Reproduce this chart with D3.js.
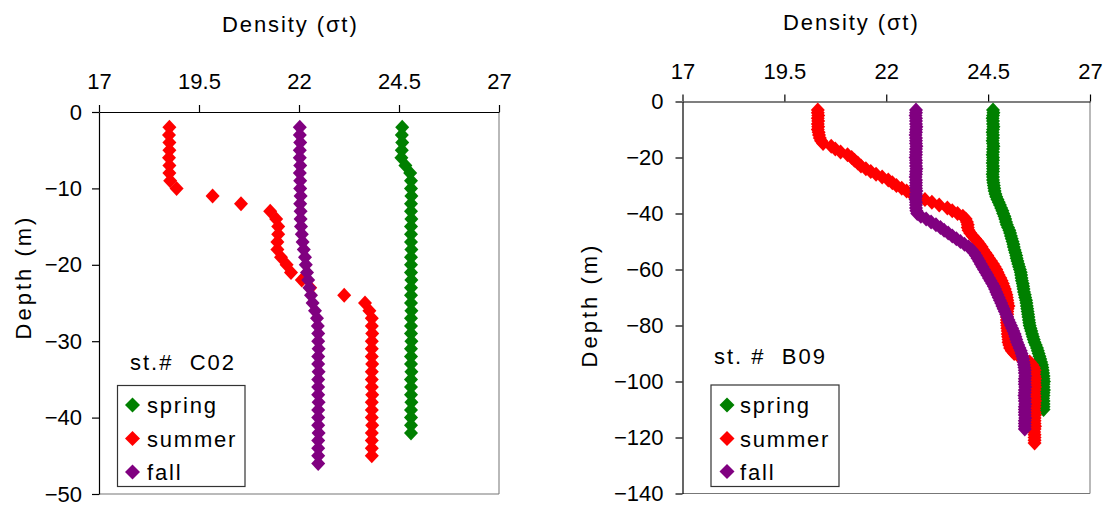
<!DOCTYPE html>
<html><head><meta charset="utf-8">
<script src="https://cdn.jsdelivr.net/npm/d3@7"></script>
<style>
body{margin:0;background:#fff}
text{font-family:"Liberation Sans",Arial,Helvetica,sans-serif;fill:#000}
</style>
</head><body>
<svg id="chart" width="1113" height="509"></svg>
<script>
// ---------- data ----------
const seasons = ["spring", "summer", "fall"];
const seasonColors = ["#008000", "#ff0000", "#800080"];
const xTicks = [17, 19.5, 22, 24.5, 27];
const yTicksC02 = [0, -10, -20, -30, -40, -50];
const yTicksB09 = [0, -20, -40, -60, -80, -100, -120, -140];

// Station C02: density (sigma-t) at 1 m depth steps, first value at startDepth
const c02StartDepth = 2;
const c02Spring = [24.58,24.57,24.58,24.57,24.56,24.66,24.78,24.80,
  24.80,24.81,24.80,24.80,24.81,24.80,24.80,24.80,24.81,24.80,24.80,24.80,24.81,
  24.80,24.80,24.80,24.81,24.80,24.80,24.80,24.81,24.80,24.80,24.80,24.81,
  24.80,24.80,24.80,24.81,24.80,24.80,24.80,24.80];
const c02Summer = [18.76,18.75,18.76,18.76,18.75,18.76,18.76,18.78,18.94,19.84,
  20.55,21.28,21.43,21.48,21.48,21.46,21.46,21.55,21.69,21.80,22.07,22.28,23.13,
  23.65,23.76,23.82,23.82,23.83,23.82,23.82,23.82,23.83,23.82,23.82,23.82,23.83,
  23.82,23.82,23.82,23.83,23.82,23.82,23.82,23.82];
const c02Fall = [22.02,22.02,22.03,22.02,22.02,22.03,22.02,22.03,22.03,22.04,22.03,
  22.04,22.04,22.05,22.07,22.09,22.12,22.15,22.17,22.20,22.23,22.26,22.30,22.34,
  22.40,22.45,22.47,22.48,22.48,22.49,22.48,22.48,22.49,22.48,22.48,22.48,22.49,
  22.48,22.48,22.48,22.49,22.48,22.48,22.48,22.48];

// Station B09
const b09StartDepth = 3;
const b09Spring = [24.62,24.63,24.62,24.61,24.62,24.62,24.63,24.62,24.61,24.62,24.62,
  24.61,24.62,24.63,24.62,24.62,24.61,24.62,24.62,24.61,24.62,24.62,24.62,24.61,24.62,24.62,
  24.63,24.64,24.65,24.66,24.68,24.70,24.73,24.76,24.79,24.82,24.85,24.87,24.90,24.92,
  24.94,24.96,24.99,25.02,25.04,25.06,25.08,25.10,25.12,25.13,25.15,25.17,25.19,25.20,
  25.22,25.24,25.26,25.28,25.30,25.31,25.32,25.33,25.35,25.36,25.37,25.38,25.40,25.41,
  25.43,25.44,25.45,25.46,25.47,25.48,25.49,25.50,25.51,25.52,25.54,25.56,25.58,25.60,
  25.62,25.64,25.67,25.70,25.72,25.74,25.76,25.78,25.80,25.82,25.83,25.84,25.85,
  25.86,25.86,25.87,25.86,25.86,25.87,25.86,25.86,25.85,25.86,25.86,25.86,25.86];
const b09Summer = [20.32,20.32,20.33,20.32,20.33,20.32,20.33,20.32,20.34,20.35,20.37,
  20.40,20.45,20.65,20.75,20.88,21.05,21.15,21.22,21.30,21.38,21.50,21.62,21.75,21.90,
  22.05,22.15,22.25,22.38,22.50,22.62,22.75,22.95,23.12,23.30,23.50,23.62,23.75,23.88,
  23.95,23.98,24.00,24.00,24.02,24.06,24.12,24.18,24.24,24.29,24.34,24.38,24.43,24.48,
  24.52,24.57,24.62,24.66,24.70,24.73,24.76,24.80,24.83,24.86,24.88,24.91,24.93,24.95,
  24.96,24.97,24.98,25.00,
  24.98,24.97,24.97,24.96,24.96,24.96,24.97,24.97,24.98,24.98,24.99,25.00,25.00,25.02,
  25.04,25.08,25.14,25.25,25.40,25.52,25.58,25.62,
  25.64,25.63,25.64,25.65,25.64,25.64,25.65,25.64,25.63,25.64,25.64,25.65,25.64,25.64,
  25.63,25.64,25.65,25.64,25.64,25.64,25.65,25.64,25.63,25.64,25.64,25.64,25.64];
const b09Fall = [22.73,22.73,22.72,22.73,22.73,22.73,22.74,22.73,22.73,22.72,22.73,22.73,
  22.73,22.74,22.73,22.73,22.73,22.72,22.73,22.73,22.73,22.74,22.73,22.73,22.72,22.73,
  22.73,22.73,22.73,22.74,22.73,22.73,22.72,22.73,22.73,22.73,22.74,
  22.76,22.85,22.98,23.10,23.22,23.33,23.42,23.52,23.62,23.72,23.82,23.92,24.02,24.10,
  24.16,24.20,24.24,24.28,24.32,24.36,24.40,24.44,24.48,24.52,24.56,24.60,24.64,24.67,
  24.70,24.73,24.76,24.79,24.82,24.85,24.88,24.91,24.94,24.97,25.00,25.03,25.06,25.09,
  25.12,25.15,25.17,25.19,25.21,25.24,25.27,25.30,25.32,25.34,25.36,25.37,25.38,25.39,
  25.40,25.40,25.41,25.40,25.40,25.40,25.41,25.40,25.40,25.39,25.40,25.40,25.41,25.40,
  25.40,25.40,25.40,25.41,25.40,25.40,25.40,25.40];

// ---------- drawing ----------
const svg = d3.select("#chart");
const minusFmt = d => d < 0 ? "\u2212" + Math.abs(d) : String(d);

function panel(cfg) {
  const x = d3.scaleLinear().domain([17, 27]).range([cfg.x0, cfg.x1]);
  const y = d3.scaleLinear().domain([0, cfg.yMin]).range([cfg.y0, cfg.y1]);
  const g = svg.append("g");

  // border (right & bottom, gray)
  g.append("line").attr("x1", cfg.x1).attr("x2", cfg.x1).attr("y1", cfg.y0).attr("y2", cfg.y1)
    .attr("stroke", "#8a8a8a").attr("stroke-width", 1.2);
  g.append("line").attr("x1", cfg.x0).attr("x2", cfg.x1).attr("y1", cfg.y1).attr("y2", cfg.y1)
    .attr("stroke", "#777").attr("stroke-width", 1.2);

  const ax = g.append("g").attr("transform", `translate(0,${cfg.y0})`)
    .call(d3.axisTop(x).tickValues(xTicks).tickSize(7).tickPadding(16).tickSizeOuter(0)
      .tickFormat(d => String(d)));
  const ay = g.append("g").attr("transform", `translate(${cfg.x0},0)`)
    .call(d3.axisLeft(y).tickValues(cfg.yTicks).tickSize(7).tickPadding(cfg.yPad).tickSizeOuter(0)
      .tickFormat(minusFmt));
  [ax, ay].forEach(a => {
    a.selectAll("path,line").attr("stroke", "#000").attr("stroke-width", 1.2);
    a.selectAll("text").style("font-size", "22px").style("font-family", '"Liberation Sans",Arial,sans-serif').attr("fill", "#000");
  });

  // titles
  g.append("text").attr("x", cfg.titleX).attr("y", cfg.titleY)
    .style("font-size", "22px").style("letter-spacing", "1.9px").text("Density (σt)");
  g.append("text").attr("transform", `translate(${cfg.depthX},${cfg.depthY}) rotate(-90)`)
    .attr("text-anchor", "middle").style("font-size", "22px").style("letter-spacing", "3px")
    .text("Depth (m)");

  const diamond = (w, h) => `M0,${-h}L${w},0L0,${h}L${-w},0Z`;

  // data series
  cfg.series.forEach((vals, si) => {
    const pts = vals.map((v, i) => ({ d: -(cfg.start + i), v }));
    g.append("g").selectAll("path").data(pts).join("path")
      .attr("d", diamond(7, 7.5))
      .attr("transform", p => `translate(${x(p.v)},${y(p.d)})`)
      .attr("fill", seasonColors[si]);
  });

  // station label
  g.append("text").attr("x", cfg.stX).attr("y", cfg.stY)
    .style("font-size", "22px").style("letter-spacing", "2px").style("white-space", "pre")
    .text(cfg.station);

  // legend
  const L = cfg.legend;
  g.append("rect").attr("x", L.x).attr("y", L.y).attr("width", L.w).attr("height", L.h)
    .attr("fill", "#fff").attr("stroke", "#333").attr("stroke-width", 1.2);
  seasons.forEach((s, i) => {
    g.append("path").attr("d", diamond(7.5, 7.5))
      .attr("transform", `translate(${L.mx},${L.my[i]})`).attr("fill", seasonColors[i]);
    g.append("text").attr("x", L.tx).attr("y", L.ty[i])
      .style("font-size", "22px").style("letter-spacing", "1.8px").text(s);
  });
}

panel({
  x0: 99, x1: 499, y0: 112, y1: 494, yMin: -50, yTicks: yTicksC02, yPad: 10,
  titleX: 222, titleY: 32, depthX: 31, depthY: 277,
  start: c02StartDepth, series: [c02Spring, c02Summer, c02Fall],
  station: "st.#  C02", stX: 130, stY: 370,
  legend: { x: 117.5, y: 385.5, w: 127.5, h: 101, mx: 132.5, my: [405, 438.5, 472], tx: 147, ty: [413, 446.5, 480] }
});
panel({
  x0: 682.5, x1: 1090, y0: 101.5, y1: 493.5, yMin: -140, yTicks: yTicksB09, yPad: 12,
  titleX: 783, titleY: 30, depthX: 597, depthY: 305,
  start: b09StartDepth, series: [b09Spring, b09Summer, b09Fall],
  station: "st. #  B09", stX: 714, stY: 364,
  legend: { x: 711, y: 385, w: 128, h: 101.5, mx: 727, my: [405, 438.5, 471.5], tx: 740, ty: [413, 446.5, 479.5] }
});
</script>
</body></html>
